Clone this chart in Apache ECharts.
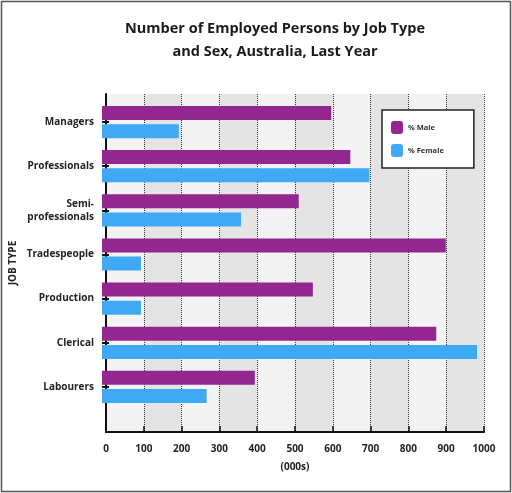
<!DOCTYPE html><html><head><meta charset="utf-8"><script src="https://cdn.jsdelivr.net/npm/echarts@6/dist/echarts.min.js"></script>
<style>html,body{margin:0;padding:0;background:#fff}#c{width:512px;height:493px}</style></head><body><div id="c"></div><script>
const categories=['Managers','Professionals','Semi-\nprofessionals','Tradespeople','Production','Clerical','Labourers'];
const maleValues=[600,650,515,900,552,875,400];
const femaleValues=[201,700,364,102,102,982,274];
const xTicks=[0,100,200,300,400,500,600,700,800,900,1000];
const chart=echarts.init(document.getElementById('c'));
const font='"Open Sans", "DejaVu Sans", sans-serif';
chart.setOption({
  animation:false,
  textStyle:{fontFamily:font},
  title:{text:'Number of Employed Persons by Job Type\nand Sex, Australia, Last Year',left:270,top:12,textAlign:'center',
    textStyle:{fontSize:14.5,fontWeight:'bold',color:'#1a1a1a',lineHeight:23,fontFamily:font}},
  graphic:[{type:'rect',shape:{x:1.5,y:1.5,width:509,height:490},style:{fill:'none',stroke:'#555',lineWidth:1.5}}],
  legend:{left:382,top:110,orient:'vertical',itemWidth:12,itemHeight:13,itemGap:10,padding:[11,30,11,9],
    borderColor:'#222',borderWidth:1.5,backgroundColor:'#fff',
    textStyle:{fontSize:7.5,fontWeight:'bold',color:'#333'},data:['% Male','% Female']},
  grid:[{left:102,right:28,top:100,bottom:84},{left:102,right:28,top:94,bottom:61}],
  xAxis:[{type:'value',gridIndex:0,min:0,max:1000,interval:100,show:false,splitLine:{show:false}},
    {type:'value',gridIndex:1,min:0,max:1000,interval:100,
    name:'(000s)',nameLocation:'middle',nameGap:30,nameTextStyle:{fontSize:10,fontWeight:'bold',color:'#222'},
    axisLine:{show:true,lineStyle:{color:'#111',width:2}},
    axisTick:{show:true,inside:true,length:6,lineStyle:{color:'#111',width:1.5}},
    axisLabel:{fontSize:10,fontWeight:'bold',color:'#222',margin:12,formatter:v=>xTicks.includes(v)?String(v):''},
    splitLine:{show:true,lineStyle:{color:'#333',type:'dotted',width:1}},
    splitArea:{show:true,areaStyle:{color:['#f3f3f3','#e4e4e4']}}}],
  yAxis:[{type:'category',gridIndex:0,inverse:true,data:categories,
    axisLine:{show:false},
    axisTick:{show:true,inside:true,alignWithLabel:true,length:7,lineStyle:{color:'#111',width:2}},
    axisLabel:{fontSize:10,fontWeight:'bold',color:'#222',margin:8,lineHeight:13,align:'right'}},
    {type:'value',gridIndex:1,min:0,max:1,show:true,splitLine:{show:false},axisLabel:{show:false},axisTick:{show:false},
    name:'JOB TYPE',nameLocation:'middle',nameGap:88,nameRotate:90,nameTextStyle:{fontSize:10,fontWeight:'bold',color:'#222'},
    axisLine:{show:true,lineStyle:{color:'#111',width:2}}}],
  series:[
    {name:'% Male',type:'bar',xAxisIndex:0,yAxisIndex:0,data:maleValues,barWidth:14,barGap:'30%',itemStyle:{color:'#93278f'}},
    {name:'% Female',type:'bar',xAxisIndex:0,yAxisIndex:0,data:femaleValues,barWidth:14,itemStyle:{color:'#3fa9f5'}}
  ]
});
</script></body></html>
